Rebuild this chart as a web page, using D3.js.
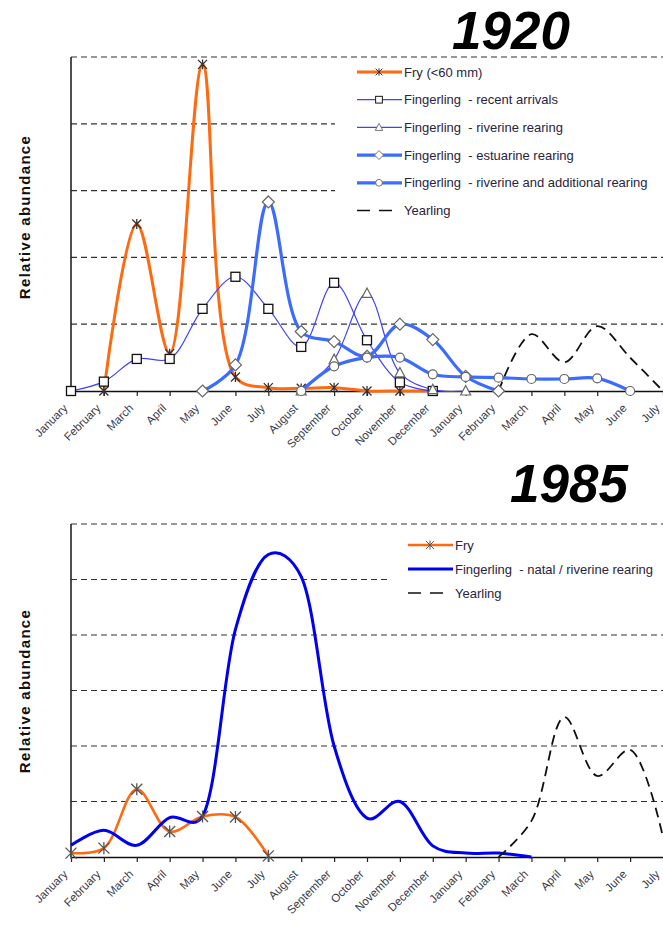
<!DOCTYPE html>
<html>
<head>
<meta charset="utf-8">
<script src="https://cdn.jsdelivr.net/npm/d3@7"></script>
<style>
  body { margin: 0; background: #fff; }
  svg { display: block; font-family: Arial, "Liberation Sans", sans-serif; }
</style>
</head>
<body>
<svg id="chart" width="663" height="927"></svg>
<script>
// month labels along the x axis (19 months, January to July of the following year)
var months = ["January", "February", "March", "April", "May", "June", "July", "August",
  "September", "October", "November", "December", "January", "February", "March",
  "April", "May", "June", "July"];

// 1920 series, one value per month, null where the series is absent
var fry1920 = [null, 0, 2.5, 0.56, 4.89, 0.21, 0.05, 0.04, 0.05, 0, 0, 0, null, null, null, null, null, null, null];
var recent1920 = [0, 0.14, 0.48, 0.48, 1.23, 1.71, 1.23, 0.66, 1.62, 0.76, 0.13, 0, null, null, null, null, null, null, null];
var riverine1920 = [null, null, null, null, null, null, null, 0, 0.47, 1.46, 0.27, 0.02, 0, null, null, null, null, null, null];
var estuarine1920 = [null, null, null, null, 0, 0.39, 2.83, 0.89, 0.74, 0.52, 1.0, 0.77, 0.22, 0, null, null, null, null, null];
var additional1920 = [null, null, null, null, null, null, null, 0, 0.37, 0.5, 0.5, 0.25, 0.21, 0.2, 0.18, 0.18, 0.19, 0, null];
var yearling1920 = [null, null, null, null, null, null, null, null, null, null, null, null, null, 0, 0.85, 0.43, 0.97, 0.5, 0];
var grid1920 = [1, 2, 3, 4, 5];

// 1985 series
var fry1985 = [0.07, 0.16, 1.22, 0.46, 0.73, 0.72, 0.02, null, null, null, null, null, null, null, null, null, null, null, null];
var natal1985 = [0.21, 0.48, 0.21, 0.71, 0.74, 4.1, 5.45, 5.05, 2.0, 0.7, 1.0, 0.2, 0.07, 0.07, 0, null, null, null, null];
var yearling1985 = [null, null, null, null, null, null, null, null, null, null, null, null, null, 0, 0.65, 2.52, 1.46, 1.93, 0.36];
var grid1985 = [1, 2, 3, 4, 5, 6];

var svg = d3.select("#chart");

var orange = "#ff6a10";
var thinBlue = "#4040ff";
var thickBlue = "#3c6cff";
var pureBlue = "#0000f0";

function star(g, size, color) {
  var s = size / 2;
  g.append("path")
    .attr("d", "M" + (-s) + "," + (-s) + "L" + s + "," + s +
      "M" + (-s) + "," + s + "L" + s + "," + (-s) +
      "M0," + (-s * 1.1) + "L0," + (s * 1.1))
    .attr("stroke", color).attr("stroke-width", 1.3).attr("fill", "none");
}

function marker(g, type) {
  if (type == "star") star(g, 9, "#333");
  else if (type == "bigstar") star(g, 11, "#555");
  else if (type == "square") g.append("rect").attr("x", -4.5).attr("y", -4.5).attr("width", 9).attr("height", 9)
    .attr("fill", "#fff").attr("stroke", "#111").attr("stroke-width", 1.3);
  else if (type == "triangle") g.append("path").attr("d", "M0,-5.5L5,4L-5,4Z")
    .attr("fill", "#fff").attr("stroke", "#666").attr("stroke-width", 1.2);
  else if (type == "diamond") g.append("path").attr("d", "M0,-6L6,0L0,6L-6,0Z")
    .attr("fill", "#fff").attr("stroke", "#666").attr("stroke-width", 1.2);
  else if (type == "circle") g.append("circle").attr("r", 4.5)
    .attr("fill", "#fff").attr("stroke", "#666").attr("stroke-width", 1.2);
}

function drawPanel(p) {
  var x = d3.scaleLinear().domain([0, months.length - 1]).range([71, 663]);
  var y = d3.scaleLinear().domain([0, p.max]).range([p.bottom, p.top]);
  var g = svg.append("g");

  // dashed grid
  g.selectAll(".grid").data(p.grid).enter().append("line")
    .attr("x1", 71).attr("x2", 663)
    .attr("y1", function(d) { return y(d); }).attr("y2", function(d) { return y(d); })
    .attr("stroke", "#333").attr("stroke-width", 1.2).attr("stroke-dasharray", "6,4");

  // legend background hides the grid behind it
  g.append("rect").attr("x", p.legendBox[0]).attr("y", p.legendBox[1])
    .attr("width", p.legendBox[2]).attr("height", p.legendBox[3]).attr("fill", "#fff");

  // axes
  var xAxis = d3.axisBottom(x).tickValues(d3.range(months.length))
    .tickFormat(function(i) { return months[i]; }).tickSize(5).tickSizeOuter(0);
  var ax = g.append("g").attr("transform", "translate(0," + p.bottom + ")").call(xAxis);
  ax.select(".domain").attr("stroke", "#111").attr("stroke-width", 1.6);
  ax.selectAll(".tick line").attr("stroke", "#222").attr("stroke-width", 1.2);
  ax.selectAll(".tick text")
    .attr("font-size", "11.5px").attr("fill", "#3a3a4a")
    .attr("text-anchor", "end")
    .attr("transform", "translate(-6,15) rotate(-45)")
    .attr("dy", "0.35em").attr("y", 0).attr("x", 0);

  g.append("line").attr("x1", 71).attr("x2", 71).attr("y1", p.top).attr("y2", p.bottom)
    .attr("stroke", "#222").attr("stroke-width", 1.6);

  g.append("text")
    .attr("transform", "translate(30," + p.labelY + ") rotate(-90)")
    .attr("text-anchor", "middle")
    .attr("font-size", "15px").attr("font-weight", "bold")
    .attr("letter-spacing", "1.3px").attr("fill", "#111")
    .text("Relative abundance");

  g.append("text").attr("x", p.titleX).attr("y", p.titleY)
    .attr("font-size", p.titleSize + "px").attr("font-weight", "bold").attr("font-style", "italic")
    .attr("fill", "#000").text(p.title);

  p.series.forEach(function(s) {
    var line = d3.line()
      .defined(function(d) { return d != null; })
      .x(function(d, i) { return x(i); })
      .y(function(d) { return y(d); })
      .curve(d3.curveCatmullRom.alpha(s.alpha == null ? 0.5 : s.alpha));
    g.append("path").datum(s.values)
      .attr("d", line).attr("fill", "none")
      .attr("stroke", s.color).attr("stroke-width", s.width)
      .attr("stroke-dasharray", s.dash || null);
  });

  p.series.forEach(function(s) {
    if (!s.marker) return;
    s.values.forEach(function(v, i) {
      if (v == null) return;
      var m = g.append("g").attr("transform", "translate(" + x(i) + "," + y(v) + ")");
      marker(m, s.marker);
    });
  });

  // legend
  p.series.forEach(function(s, k) {
    var ly = p.legendY + k * p.legendStep;
    var lg = g.append("g").attr("transform", "translate(" + p.legendX + "," + ly + ")");
    if (s.dash) {
      lg.append("line").attr("x1", 0).attr("x2", 36).attr("stroke", s.color)
        .attr("stroke-width", 1.6).attr("stroke-dasharray", "13,9");
    } else {
      lg.append("line").attr("x1", 0).attr("x2", 45).attr("stroke", s.color).attr("stroke-width", s.width);
    }
    if (s.marker) {
      var mk = lg.append("g").attr("transform", "translate(22,0) scale(0.75)");
      marker(mk, s.marker);
    }
    lg.append("text").attr("x", 47).attr("y", 4.5).attr("font-size", "13px")
      .attr("fill", "#2a2440").attr("xml:space", "preserve").text(s.name);
  });
}

drawPanel({
  top: 57, bottom: 391, max: 5, grid: grid1920,
  legendBox: [335, 62, 328, 160],
  labelY: 217, title: "1920", titleX: 452, titleY: 49, titleSize: 53,
  legendX: 357, legendY: 72, legendStep: 27.7,
  series: [
    { name: "Fry (<60 mm)", values: fry1920, color: orange, width: 3, marker: "star" },
    { name: "Fingerling  - recent arrivals", values: recent1920, color: thinBlue, width: 1.2, marker: "square" },
    { name: "Fingerling  - riverine rearing", values: riverine1920, color: thinBlue, width: 1.2, marker: "triangle" },
    { name: "Fingerling  - estuarine rearing", values: estuarine1920, color: thickBlue, width: 3.2, marker: "diamond" },
    { name: "Fingerling  - riverine and additional rearing", values: additional1920, color: thickBlue, width: 3.2, marker: "circle" },
    { name: "Yearling", values: yearling1920, color: "#111", width: 1.8, dash: "10,6" }
  ]
});

drawPanel({
  top: 524, bottom: 857, max: 6, grid: grid1985,
  legendBox: [389, 530, 274, 75],
  labelY: 691, title: "1985", titleX: 510, titleY: 502, titleSize: 53,
  legendX: 408, legendY: 545, legendStep: 24,
  series: [
    { name: "Fry", values: fry1985, color: orange, width: 2.6, marker: "bigstar" },
    { name: "Fingerling  - natal / riverine rearing", values: natal1985, color: pureBlue, width: 3, marker: null, alpha: 0.25 },
    { name: "Yearling", values: yearling1985, color: "#111", width: 1.8, dash: "10,6" }
  ]
});
</script>
</body>
</html>
